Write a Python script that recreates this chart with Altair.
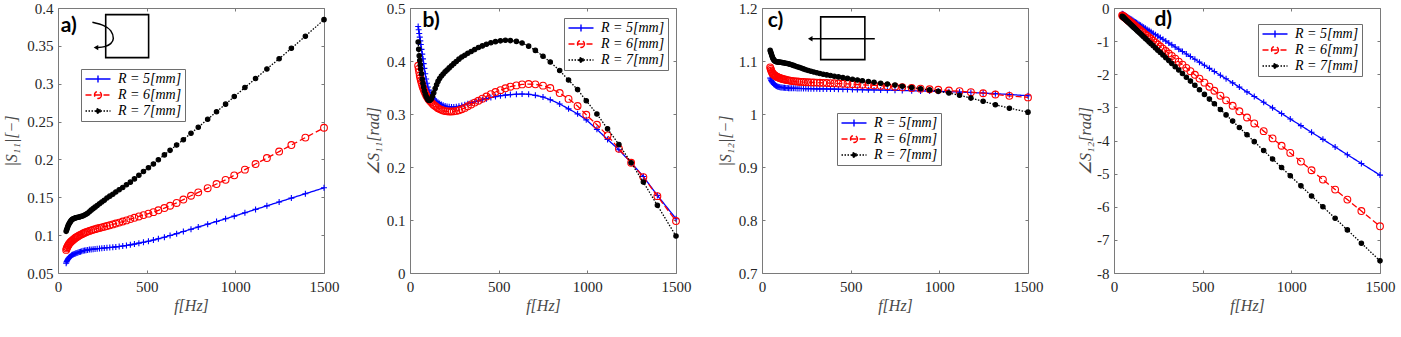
import altair as alt
import pandas as pd

# ---------------- data ----------------
F = [46, 49, 52, 55, 58, 61, 65, 69, 73, 77,
     81, 86, 91, 96, 101, 107, 113, 120, 127, 134,
     142, 150, 158, 167, 177, 187, 198, 209, 221, 234,
     247, 261, 276, 292, 309, 326, 345, 365, 386, 408,
     431, 456, 482, 510, 538, 566, 600, 632, 669, 707,
     750, 791, 844, 894, 945, 994, 1054, 1114, 1178, 1247,
     1316, 1395, 1500]

SERIES = ["R = 5[mm]", "R = 6[mm]", "R = 7[mm]"]

A_R5 = [0.0630, 0.0650, 0.0665, 0.0678, 0.0690, 0.0700, 0.0710, 0.0718, 0.0726, 0.0733,
        0.0740, 0.0745, 0.0750, 0.0755, 0.0760, 0.0765, 0.0770, 0.0776, 0.0782, 0.0788,
        0.0793, 0.0797, 0.0801, 0.0805, 0.0809, 0.0812, 0.0815, 0.0818, 0.0821, 0.0824,
        0.0827, 0.0830, 0.0833, 0.0837, 0.0841, 0.0845, 0.0850, 0.0856, 0.0863, 0.0872,
        0.0882, 0.0894, 0.0906, 0.0920, 0.0935, 0.0952, 0.0973, 0.0995, 0.1020, 0.1048,
        0.1078, 0.1108, 0.1145, 0.1180, 0.1216, 0.1251, 0.1295, 0.1340, 0.1387, 0.1438,
        0.1489, 0.1547, 0.1625]
A_R6 = [0.0805, 0.0825, 0.0840, 0.0855, 0.0868, 0.0880, 0.0892, 0.0903, 0.0912, 0.0921,
        0.0930, 0.0940, 0.0950, 0.0960, 0.0968, 0.0977, 0.0986, 0.0995, 0.1004, 0.1013,
        0.1022, 0.1031, 0.1039, 0.1047, 0.1056, 0.1063, 0.1071, 0.1079, 0.1087, 0.1095,
        0.1103, 0.1111, 0.1120, 0.1130, 0.1142, 0.1153, 0.1166, 0.1180, 0.1195, 0.1212,
        0.1229, 0.1247, 0.1265, 0.1284, 0.1304, 0.1328, 0.1358, 0.1388, 0.1425, 0.1470,
        0.1520, 0.1565, 0.1620, 0.1675, 0.1730, 0.1790, 0.1865, 0.1939, 0.2018, 0.2104,
        0.2190, 0.2288, 0.2418]
A_R7 = [0.105, 0.107, 0.109, 0.111, 0.113, 0.1145, 0.116, 0.1175, 0.119, 0.120,
        0.121, 0.1215, 0.122, 0.1225, 0.123, 0.1233, 0.1236, 0.124, 0.1245, 0.125,
        0.1257, 0.1266, 0.1277, 0.129, 0.131, 0.133, 0.135, 0.137, 0.139, 0.1415,
        0.1438, 0.146, 0.149, 0.1515, 0.154, 0.157, 0.160, 0.163, 0.1665, 0.170,
        0.1743, 0.179, 0.184, 0.189, 0.194, 0.1995, 0.206, 0.212, 0.219, 0.226,
        0.2345, 0.2425, 0.253, 0.263, 0.273, 0.283, 0.295, 0.3068, 0.3195, 0.333,
        0.3468, 0.3628, 0.3846]

B_R5 = [0.465, 0.459, 0.452, 0.445, 0.438, 0.431, 0.422, 0.413, 0.404, 0.395,
        0.386, 0.376, 0.366, 0.358, 0.351, 0.345, 0.340, 0.3355, 0.3318, 0.3288,
        0.326, 0.3237, 0.3217, 0.3198, 0.318, 0.3165, 0.3152, 0.3142, 0.3135, 0.3132,
        0.3133, 0.3138, 0.3147, 0.316, 0.3175, 0.3192, 0.321, 0.323, 0.325, 0.327,
        0.329, 0.331, 0.3328, 0.3343, 0.3356, 0.3366, 0.3374, 0.3378, 0.3372, 0.3352,
        0.332, 0.327, 0.319, 0.3097, 0.3003, 0.289, 0.271, 0.252, 0.2325, 0.208,
        0.182, 0.1464, 0.1025]
B_R6 = [0.391, 0.385, 0.379, 0.3725, 0.368, 0.3635, 0.359, 0.354, 0.350, 0.3465,
        0.343, 0.339, 0.3355, 0.3325, 0.3298, 0.327, 0.3245, 0.322, 0.3195, 0.3172,
        0.315, 0.313, 0.311, 0.3093, 0.3078, 0.3065, 0.3055, 0.305, 0.3047, 0.3047,
        0.305, 0.3058, 0.307, 0.309, 0.3115, 0.3145, 0.318, 0.3215, 0.325, 0.329,
        0.333, 0.3375, 0.3415, 0.345, 0.3485, 0.3515, 0.354, 0.3558, 0.3565, 0.356,
        0.3535, 0.349, 0.3395, 0.3285, 0.315, 0.2985, 0.2796, 0.2595, 0.2344, 0.208,
        0.181, 0.145, 0.098]
B_R7 = [0.436, 0.422, 0.410, 0.401, 0.393, 0.385, 0.376, 0.366, 0.358, 0.351,
        0.344, 0.338, 0.3335, 0.330, 0.327, 0.3255, 0.3258, 0.3285, 0.3335, 0.340,
        0.348, 0.355, 0.3615, 0.367, 0.3715, 0.3755, 0.3795, 0.383, 0.387, 0.391,
        0.395, 0.3992, 0.4035, 0.4075, 0.411, 0.4145, 0.418, 0.4215, 0.4255, 0.4285,
        0.4315, 0.4345, 0.4365, 0.438, 0.4392, 0.4385, 0.437, 0.434, 0.428, 0.420,
        0.409, 0.398, 0.382, 0.364, 0.346, 0.325, 0.300, 0.272, 0.2425, 0.208,
        0.1715, 0.1276, 0.0697]

C_R5 = [1.068, 1.066, 1.0635, 1.0615, 1.060, 1.0585, 1.057, 1.0558, 1.0547, 1.0537,
        1.0529, 1.0521, 1.0515, 1.051, 1.0506, 1.0502, 1.0499, 1.0496, 1.0494, 1.0492,
        1.049, 1.0488, 1.0487, 1.0486, 1.0485, 1.0484, 1.0483, 1.0482, 1.0481, 1.048,
        1.0479, 1.0478, 1.0477, 1.0476, 1.0475, 1.0474, 1.0473, 1.0472, 1.0471, 1.047,
        1.0468, 1.0466, 1.0464, 1.0462, 1.046, 1.0458, 1.0456, 1.0454, 1.0452, 1.045,
        1.0447, 1.0444, 1.044, 1.0436, 1.0432, 1.0427, 1.0421, 1.0414, 1.0406, 1.0396,
        1.0384, 1.0368, 1.0345]
C_R6 = [1.088, 1.085, 1.082, 1.0795, 1.0775, 1.076, 1.0745, 1.0735, 1.0725, 1.0715,
        1.0707, 1.070, 1.0692, 1.0685, 1.0678, 1.067, 1.0664, 1.0658, 1.0652, 1.0647,
        1.064, 1.0635, 1.063, 1.0625, 1.062, 1.0616, 1.0612, 1.0609, 1.0606, 1.0603,
        1.060, 1.0598, 1.0596, 1.0594, 1.0592, 1.059, 1.0588, 1.0585, 1.0582, 1.0579,
        1.0575, 1.0571, 1.0567, 1.0562, 1.0557, 1.0552, 1.0546, 1.054, 1.0533, 1.0525,
        1.0515, 1.0504, 1.049, 1.0478, 1.0467, 1.0457, 1.0443, 1.043, 1.0412, 1.0392,
        1.0368, 1.0343, 1.0313]
C_R7 = [1.120, 1.117, 1.114, 1.111, 1.108, 1.105, 1.103, 1.101, 1.100, 1.099,
        1.0985, 1.098, 1.098, 1.098, 1.0978, 1.0975, 1.097, 1.0966, 1.0962, 1.0958,
        1.0952, 1.0946, 1.0938, 1.0928, 1.0917, 1.0905, 1.0892, 1.088, 1.0866, 1.0851,
        1.0836, 1.0821, 1.0806, 1.0791, 1.0777, 1.0763, 1.075, 1.0738, 1.0726, 1.0713,
        1.070, 1.0686, 1.0672, 1.0657, 1.0643, 1.0628, 1.0612, 1.0597, 1.0581, 1.0564,
        1.0545, 1.0525, 1.050, 1.0478, 1.0455, 1.043, 1.0395, 1.0355, 1.030, 1.024,
        1.0175, 1.011, 1.0035]

D_R5 = [-0.174, -0.184, -0.194, -0.204, -0.214, -0.224, -0.238, -0.251, -0.265, -0.278,
        -0.291, -0.308, -0.325, -0.342, -0.358, -0.378, -0.399, -0.422, -0.445, -0.469,
        -0.496, -0.523, -0.549, -0.579, -0.613, -0.646, -0.683, -0.720, -0.760, -0.804,
        -0.847, -0.894, -0.945, -0.998, -1.055, -1.112, -1.176, -1.243, -1.313, -1.387,
        -1.464, -1.548, -1.635, -1.729, -1.822, -1.916, -2.030, -2.137, -2.261, -2.388,
        -2.533, -2.670, -2.847, -3.015, -3.186, -3.350, -3.551, -3.752, -3.966, -4.197,
        -4.429, -4.693, -5.045]
D_R6 = [-0.221, -0.235, -0.248, -0.261, -0.274, -0.287, -0.305, -0.322, -0.340, -0.357,
        -0.375, -0.397, -0.419, -0.440, -0.462, -0.489, -0.515, -0.546, -0.576, -0.607,
        -0.642, -0.677, -0.712, -0.751, -0.795, -0.839, -0.887, -0.935, -0.988, -1.045,
        -1.102, -1.163, -1.229, -1.299, -1.373, -1.448, -1.531, -1.619, -1.711, -1.807,
        -1.908, -2.017, -2.131, -2.254, -2.376, -2.499, -2.648, -2.788, -2.950, -3.117,
        -3.305, -3.485, -3.717, -3.936, -4.159, -4.374, -4.637, -4.899, -5.180, -5.482,
        -5.784, -6.130, -6.590]
D_R7 = [-0.253, -0.269, -0.284, -0.299, -0.314, -0.330, -0.350, -0.370, -0.390, -0.411,
        -0.431, -0.456, -0.482, -0.507, -0.533, -0.563, -0.593, -0.629, -0.665, -0.700,
        -0.741, -0.781, -0.822, -0.868, -0.918, -0.969, -1.025, -1.081, -1.142, -1.208,
        -1.274, -1.345, -1.421, -1.502, -1.588, -1.674, -1.771, -1.872, -1.979, -2.091,
        -2.207, -2.334, -2.466, -2.608, -2.750, -2.892, -3.065, -3.227, -3.415, -3.608,
        -3.826, -4.034, -4.303, -4.557, -4.816, -5.065, -5.369, -5.674, -5.998, -6.348,
        -6.699, -7.100, -7.633]

X_TICKS = [0, 500, 1000, 1500]
A_TICKS = [0.05, 0.1, 0.15, 0.2, 0.25, 0.3, 0.35, 0.4]
B_TICKS = [0, 0.1, 0.2, 0.3, 0.4, 0.5]
C_TICKS = [0.7, 0.8, 0.9, 1.0, 1.1, 1.2]
D_TICKS = [-8, -7, -6, -5, -4, -3, -2, -1, 0]

Y_TITLES = ["|S\u2081\u2081|[\u2212]", "\u2220S\u2081\u2081[rad]", "|S\u2081\u2082|[\u2212]", "\u2220S\u2081\u2082[rad]"]
LETTERS = ["a)", "b)", "c)", "d)"]

# icon geometry (data units of the panel they sit in)
A_BOX_F = [269, 511]
A_BOX_V = [0.3345, 0.3912]
A_CURVE_F = [194, 258, 297, 312, 297, 263, 225]
A_CURVE_V = [0.3811, 0.3767, 0.3701, 0.3596, 0.3530, 0.3490, 0.3477]
A_HEAD = [214, 0.3477]
C_BOX_F = [331, 580]
C_BOX_V = [1.1026, 1.1832]
C_ARROW_F = [636, 282]
C_ARROW_V = [1.142, 1.142]
C_HEAD = [272, 1.142]

# ---------------- styling ----------------
COLORS = ["#0000ff", "#ff0000", "#000000"]
DASHES = [[1, 0], [6, 3], [1.5, 1.5]]
MARK_SHAPES = ["M-1,0H1M0,-1V1", "circle", "circle"]
MARK_SIZES = [36, 46, 20]
MARK_FILLS = ["transparent", "transparent", "#000000"]
LEGEND_SHAPES = [
    "M-2.5,0H2.5M0,-0.7V0.7",
    "M-2.5,0H2.5M0.7,0A0.7,0.7,0,1,1,-0.7,0A0.7,0.7,0,1,1,0.7,0",
    "M-2.5,0H2.5M0.45,0A0.45,0.45,0,1,1,-0.45,0A0.45,0.45,0,1,1,0.45,0",
]
W, H = 266, 265
SERIF = "Liberation Serif"
TICK_EXPR = "replace(format(datum.value, '~g'), '\u2212', '-')"


def panel(vals, ydom, yticks, ytitle, title_x, letter, letter_pos, legend_pos, extras):
    df = pd.DataFrame({
        "f": F * 3,
        "v": vals[0] + vals[1] + vals[2],
        "series": [s for s in SERIES for _ in F],
    })
    x = alt.X("f:Q", scale=alt.Scale(domain=[0, 1500], nice=False, zero=False),
              axis=alt.Axis(values=X_TICKS, title="f[Hz]", titleX=W / 2, titleY=32,
                            titleBaseline="middle", titleAlign="center", labelPadding=6,
                            labelExpr=TICK_EXPR, gridDash=[3, H - 6, 3, 50]))
    y = alt.Y("v:Q", scale=alt.Scale(domain=ydom, nice=False, zero=False),
              axis=alt.Axis(values=yticks, title=ytitle, titleX=title_x, titleY=H / 2,
                            titleBaseline="middle", titleAlign="center", labelPadding=5,
                            labelExpr=TICK_EXPR, gridDash=[3, W - 6, 3, 50]))
    layers = []
    for i, s in enumerate(SERIES):
        sub = alt.Chart(df).transform_filter(alt.datum.series == s)
        layers.append(sub.mark_line(stroke=COLORS[i], strokeDash=DASHES[i], strokeWidth=1.3)
                      .encode(x=x, y=y))
        layers.append(sub.mark_point(shape=MARK_SHAPES[i], size=MARK_SIZES[i], stroke=COLORS[i],
                                     fill=MARK_FILLS[i], filled=True, strokeWidth=1.1, opacity=1)
                      .encode(x=x, y=y))
    leg = alt.Legend(orient="none", legendX=legend_pos[0], legendY=legend_pos[1], title=None,
                     symbolSize=100, symbolStrokeWidth=1.4, symbolOffset=7, labelOffset=13,
                     symbolFillColor="transparent",
                     labelFont=SERIF, labelFontStyle="italic", labelFontSize=14, labelColor="#000000",
                     fillColor="#ffffff", strokeColor="#6e6e6e", padding=3, rowPadding=2,
                     cornerRadius=0, labelLimit=300)
    legend_layer = alt.Chart(df).transform_filter("datum.f < 0").mark_point(
        size=100, strokeWidth=1.4, opacity=1, filled=False).encode(
        x=x, y=y,
        color=alt.Color("series:N", scale=alt.Scale(domain=SERIES, range=COLORS), legend=leg),
        strokeDash=alt.StrokeDash("series:N", scale=alt.Scale(domain=SERIES, range=DASHES), legend=leg),
        shape=alt.Shape("series:N", scale=alt.Scale(domain=SERIES, range=LEGEND_SHAPES), legend=leg),
        fill=alt.Fill("series:N", scale=alt.Scale(domain=SERIES, range=MARK_FILLS), legend=leg),
    )
    layers.append(legend_layer)
    txt = alt.Chart(pd.DataFrame({"f": [letter_pos[0]], "v": [letter_pos[1]], "t": [letter]})).mark_text(
        font="Lato", fontWeight="bold", fontSize=21, align="left", baseline="middle", color="#000000"
    ).encode(x=x, y=y, text="t:N")
    layers.append(txt)
    for e in extras:
        layers.append(e(x, y))
    return alt.layer(*layers).properties(width=W, height=H)


def box(fs, vs):
    def make(x, y):
        d = pd.DataFrame({"f": [fs[0]], "f2": [fs[1]], "v": [vs[0]], "v2": [vs[1]]})
        return alt.Chart(d).mark_rect(fill="transparent", stroke="#000000", strokeWidth=1.6).encode(
            x=x, x2="f2:Q", y=y, y2="v2:Q")
    return make


def curve(fs, vs, interp):
    def make(x, y):
        d = pd.DataFrame({"f": fs, "v": vs, "o": list(range(len(fs)))})
        return alt.Chart(d).mark_line(stroke="#000000", strokeWidth=1.5, interpolate=interp).encode(
            x=x, y=y, order="o:Q")
    return make


def head(p):
    def make(x, y):
        d = pd.DataFrame({"f": [p[0]], "v": [p[1]]})
        return alt.Chart(d).mark_point(shape="triangle-left", filled=True, size=28, color="#000000",
                                       opacity=1).encode(x=x, y=y)
    return make


pa = panel([A_R5, A_R6, A_R7], [0.05, 0.4], A_TICKS, Y_TITLES[0], -47, LETTERS[0], [15, 0.3767], [23, 61],
           [box(A_BOX_F, A_BOX_V), curve(A_CURVE_F, A_CURVE_V, "cardinal"), head(A_HEAD)])
pb = panel([B_R5, B_R6, B_R7], [0, 0.5], B_TICKS, Y_TITLES[1], -37, LETTERS[1], [71, 0.476], [154, 10], [])
pc = panel([C_R5, C_R6, C_R7], [0.7, 1.2], C_TICKS, Y_TITLES[2], -37, LETTERS[2], [32, 1.1748], [75, 105],
           [box(C_BOX_F, C_BOX_V), curve(C_ARROW_F, C_ARROW_V, "linear"), head(C_HEAD)])
pd_ = panel([D_R5, D_R6, D_R7], [-8, 0], D_TICKS, Y_TITLES[3], -29, LETTERS[3], [228, -0.371], [144, 16], [])

chart = alt.hconcat(pa, pb, pc, pd_, spacing=86, bounds="flush").resolve_scale(
    color="independent", strokeDash="independent", shape="independent", fill="independent"
).resolve_legend(
    color="independent", strokeDash="independent", shape="independent", fill="independent"
).properties(
    padding={"left": 2, "top": 0, "right": 2, "bottom": 2},
    background="#ffffff",
).configure_view(
    stroke="#7a7a7a", strokeWidth=1
).configure_axis(
    labelFont=SERIF, labelFontSize=15, labelColor="#262626",
    titleFont=SERIF, titleFontSize=16, titleFontStyle="italic", titleFontWeight="normal",
    titleColor="#4a4a4a",
    domain=False, ticks=False, grid=True, gridColor="#7a7a7a", gridWidth=1, gridOpacity=1,
    labelFlush=False, labelOverlap=False,
)

chart.save("out.html", embed_options={"renderer": "svg", "actions": False})
